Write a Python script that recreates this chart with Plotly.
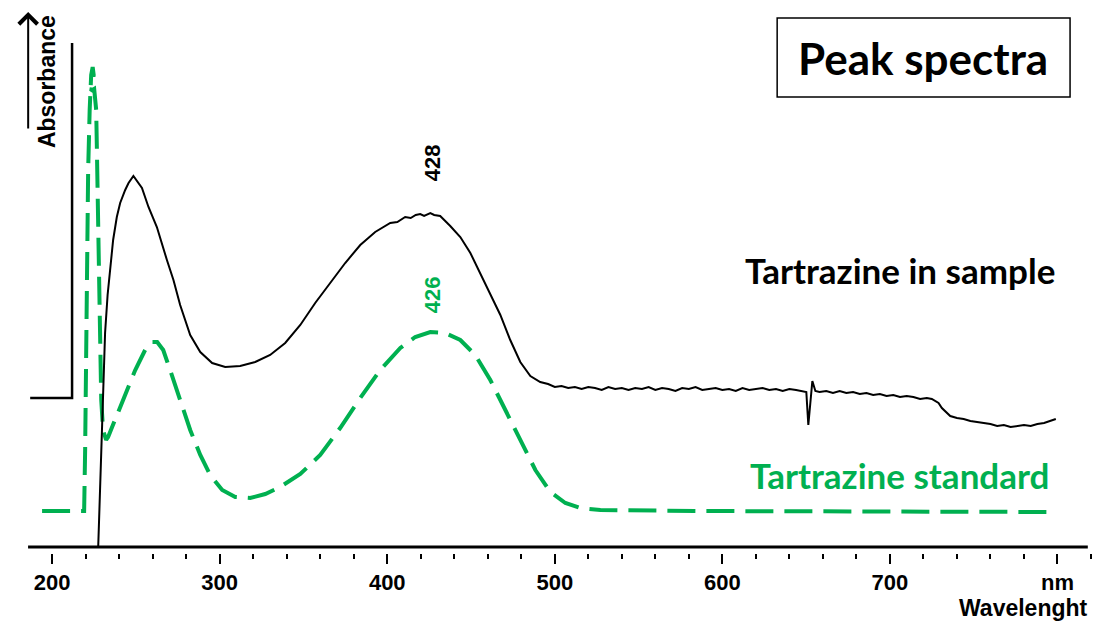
import plotly.graph_objects as go

# ---- data (wavelength nm, absorbance arbitrary units) ----
sample_nm = [227.5, 228.7, 229.7, 230.4, 231.6, 233.1, 234.6, 236.4, 238.6, 240.6, 243.6, 245.6, 248.5,
             253.6, 257.5, 262.5, 268.5, 272.4, 276.4, 282.4, 288.4, 295.5, 303.3, 312.2, 321.2, 330.1,
             339.1, 348.1, 357.0, 366.0, 374.9, 383.9, 392.8, 401.8, 406, 410.7, 414, 417, 419.7, 422,
             425.7, 428, 431.6, 437.6,
             443.6, 449.6, 455.5, 461.5, 467.5, 473.4, 479.4, 485.4, 491.3, 496, 500, 504, 508, 512, 516,
             520, 524, 528, 532, 536, 540, 544, 548, 552, 556, 560, 564, 568, 572, 576, 580, 584, 588,
             592, 596, 600, 604, 608, 612, 616, 620, 624, 628, 632, 636, 640, 644, 648, 650.1, 651.3,
             652.5, 653.7, 655.5, 658, 662, 666, 670, 674, 678, 682, 686, 690, 694, 698, 702, 706, 710,
             714, 718, 722, 725, 727, 729, 731, 734, 736, 740, 744, 748, 752, 756, 760, 764, 768, 772,
             776, 780, 784, 788, 792, 796, 799]
sample_abs = [0.06, 0.73, 1.36, 1.73, 2.20, 2.58, 2.86, 3.13, 3.36, 3.50, 3.63, 3.70, 3.77,
              3.65, 3.46, 3.26, 2.93, 2.73, 2.48, 2.18, 2.01, 1.90, 1.86, 1.87, 1.91, 1.98,
              2.10, 2.28, 2.50, 2.70, 2.90, 3.08, 3.21, 3.30, 3.31, 3.36, 3.35, 3.38, 3.39, 3.37,
              3.40, 3.38, 3.37, 3.27,
              3.16, 3.00, 2.80, 2.60, 2.38, 2.13, 1.91, 1.77, 1.71, 1.69, 1.66, 1.67, 1.65, 1.66, 1.64,
              1.66, 1.65, 1.63, 1.66, 1.64, 1.65, 1.63, 1.65, 1.64, 1.66, 1.63, 1.65, 1.64, 1.62, 1.65,
              1.64, 1.66, 1.63, 1.64, 1.65, 1.63, 1.64, 1.62, 1.65, 1.63, 1.64, 1.65, 1.63, 1.64, 1.62,
              1.64, 1.63, 1.62, 1.61, 1.28, 1.50, 1.72, 1.62, 1.61, 1.62, 1.60, 1.62, 1.60, 1.61, 1.59,
              1.60, 1.58, 1.59, 1.57, 1.58, 1.56, 1.57, 1.56, 1.54, 1.55, 1.54, 1.52, 1.50, 1.45, 1.40,
              1.37, 1.35, 1.34, 1.32, 1.31, 1.30, 1.29, 1.27, 1.28, 1.26, 1.27, 1.28, 1.27, 1.29, 1.30,
              1.32, 1.34, 1.35, 1.37, 1.35]

standard_nm = [194.0, 219.1, 219.7, 220.3, 220.9, 221.5, 222.4, 223.3, 224.2, 224.8, 223.3, 225.1, 226.3,
               226.9, 227.5, 228.4, 229.3, 230.4, 232.2, 233.4, 237.6, 243.6, 249.6, 255.5, 259.7, 262.7,
               266.3, 270.4, 276.4, 282.4, 288.4, 294.3, 301.5, 309.3, 318.2, 327.2, 336.1, 348.1, 360.0,
               371.9, 383.9, 395.8, 407.8, 416.7, 425.7, 434.6, 443.6, 452.5, 461.5, 470.4, 479.4, 488.4,
               497.3, 506.3, 515.2, 527.2, 586.9, 798.8]
standard_abs = [0.42, 0.42, 1.03, 2.03, 3.03, 3.83, 4.43, 4.78, 4.86, 4.78, 4.62, 4.64, 4.43,
                3.83, 3.03, 2.23, 1.53, 1.23, 1.13, 1.16, 1.33, 1.58, 1.83, 2.03, 2.11, 2.11,
                2.03, 1.83, 1.53, 1.23, 0.98, 0.78, 0.63, 0.56, 0.55, 0.59, 0.66, 0.79, 0.98,
                1.25, 1.55, 1.83, 2.05, 2.16, 2.21, 2.20, 2.13, 1.98, 1.73, 1.43, 1.13, 0.83,
                0.61, 0.50, 0.45, 0.43, 0.42, 0.41]

major_ticks = [200, 300, 400, 500, 600, 700, 800]
major_labels = ["200", "300", "400", "500", "600", "700", "nm"]

GREEN = "#00B050"
BLACK = "#000000"
FONT = "Liberation Sans, Arial, sans-serif"
TFONT = "Lato, Carlito, Calibri, sans-serif"

fig = go.Figure()
fig.add_trace(go.Scatter(x=standard_nm, y=standard_abs, mode="lines",
                         line=dict(color=GREEN, width=4, dash="28px,11px"),
                         hoverinfo="skip", showlegend=False))
fig.add_trace(go.Scatter(x=sample_nm, y=sample_abs, mode="lines",
                         line=dict(color=BLACK, width=2),
                         hoverinfo="skip", showlegend=False))

shapes = [
    # bottom axis line
    dict(type="line", xref="paper", yref="y", x0=0.001, x1=0.997, y0=0.06, y1=0.06,
         line=dict(color=BLACK, width=3)),
    # L-shaped absorbance axis
    dict(type="path", xref="x", yref="y", path="M 186.9 1.55 L 211.9 1.55 L 211.9 5.10",
         line=dict(color=BLACK, width=2.5)),
    # title box
    dict(type="rect", xref="x", yref="y", x0=632.7, x1=807.5, y0=4.56, y1=5.35,
         line=dict(color=BLACK, width=1.5), fillcolor="rgba(0,0,0,0)"),
]

annotations = [
    dict(x=185.7, y=5.41, ax=185.7, ay=4.23, xref="x", yref="y", axref="x", ayref="y",
         showarrow=True, arrowhead=4, arrowsize=1.8, arrowwidth=2, arrowcolor=BLACK, text=""),
    dict(x=197.0, y=4.71, xref="x", yref="y", text="<b>Absorbance</b>", textangle=-90,
         showarrow=False, font=dict(family=FONT, size=23, color=BLACK)),
    dict(x=426.8, y=3.90, xref="x", yref="y", text="<b>428</b>", textangle=-90,
         showarrow=False, font=dict(family=FONT, size=22, color=BLACK)),
    dict(x=426.8, y=2.58, xref="x", yref="y", text="<b>426</b>", textangle=-90,
         showarrow=False, font=dict(family=FONT, size=22, color=GREEN)),
    dict(x=706.1, y=2.83, xref="x", yref="y", text="<b>Tartrazine in sample</b>",
         showarrow=False, font=dict(family=TFONT, size=35, color=BLACK)),
    dict(x=705.5, y=0.78, xref="x", yref="y", text="<b>Tartrazine standard</b>",
         showarrow=False, font=dict(family=TFONT, size=35, color=GREEN)),
    dict(x=719.8, y=4.95, xref="x", yref="y", text="<b>Peak spectra</b>",
         showarrow=False, font=dict(family=TFONT, size=44, color=BLACK)),
    dict(x=0.9995, y=-0.0995, xref="paper", yref="paper", xanchor="right", yanchor="middle",
         text="<b>Wavelenght</b>",
         showarrow=False, font=dict(family=FONT, size=23, color=BLACK)),
]

fig.update_layout(
    width=1097, height=625,
    margin=dict(l=27, r=6, t=0, b=72),
    paper_bgcolor="white", plot_bgcolor="white",
    shapes=shapes, annotations=annotations,
    xaxis=dict(range=[185, 820], showgrid=False, zeroline=False, showline=False,
               tickmode="array", tickvals=major_ticks, ticktext=major_labels,
               ticks="outside", ticklen=10, tickwidth=2, tickcolor=BLACK,
               tickfont=dict(family=FONT, size=22, color=BLACK, weight="bold"),
               minor=dict(dtick=20, tick0=200, ticks="outside", ticklen=5, tickwidth=2,
                          tickcolor=BLACK, showgrid=False)),
    yaxis=dict(range=[0, 5.53], showgrid=False, zeroline=False, showline=False,
               showticklabels=False, ticks=""),
)

fig.write_html("out.html", config={"displayModeBar": False},
               post_script="document.body.style.margin='0px';")
